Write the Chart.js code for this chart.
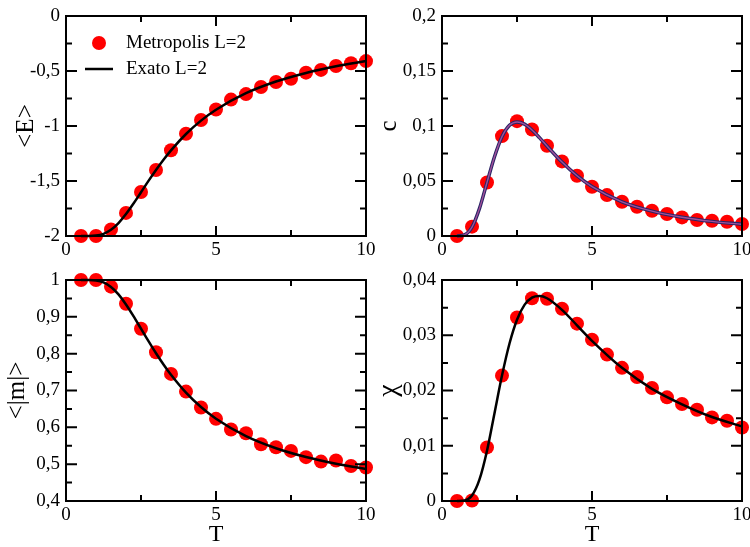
<!DOCTYPE html>
<html><head><meta charset="utf-8">
<script src="https://cdn.jsdelivr.net/npm/chart.js@4.4.0/dist/chart.umd.min.js"></script>
<style>
html,body{margin:0;padding:0;background:#fff;}
#wrap{position:relative;width:750px;height:547px;overflow:hidden;background:#fff;}
canvas{position:absolute;left:0;top:0;}
</style></head><body>
<div id="wrap">
<canvas id="c1" width="750" height="547"></canvas>
<canvas id="c2" width="750" height="547"></canvas>
<canvas id="c3" width="750" height="547"></canvas>
<canvas id="c4" width="750" height="547"></canvas>
</div>
<script>
// Monte Carlo (Metropolis) points
const tData = [0.5,1,1.5,2,2.5,3,3.5,4,4.5,5,5.5,6,6.5,7,7.5,8,8.5,9,9.5,10];
const eData = [-2.0,-2.0,-1.94,-1.79,-1.60,-1.40,-1.22,-1.07,-0.945,-0.85,-0.76,-0.71,-0.645,-0.60,-0.57,-0.515,-0.49,-0.455,-0.43,-0.41];
const cData = [0.0,0.0085,0.0487,0.0908,0.1044,0.0968,0.082,0.0678,0.0548,0.0448,0.0372,0.0312,0.0266,0.023,0.020,0.0169,0.0145,0.0139,0.013,0.0109];
const mData = [1.0,1.0,0.982,0.9356,0.8675,0.804,0.745,0.697,0.654,0.623,0.594,0.584,0.554,0.546,0.536,0.519,0.507,0.510,0.495,0.491];
const chiData = [0.0,0.0001,0.0097,0.0227,0.0332,0.0367,0.0366,0.0348,0.0321,0.0292,0.0265,0.0241,0.02245,0.02045,0.01876,0.01755,0.01652,0.01513,0.01452,0.01331];

// Exact curves
const tCurve = [0.5,0.75,1,1.25,1.5,1.75,2,2.25,2.5,2.75,3,3.25,3.5,4,4.5,5,6,7,8,9,10];
const eCurve = [-2.0,-1.9997,-1.996,-1.980,-1.9437,-1.8827,-1.8008,-1.7048,-1.6023,-1.4991,-1.3999,-1.3070,-1.2214,-1.0727,-0.9512,-0.8518,-0.7020,-0.5959,-0.5174,-0.4571,-0.4095];
const cCurve = [0.0,0.0010,0.0080,0.0251,0.0487,0.0721,0.0903,0.1006,0.1037,0.1017,0.0964,0.0894,0.0818,0.0672,0.0548,0.0449,0.0311,0.0226,0.0171,0.0133,0.0107];
const mCurve = [1.0,0.9999,0.9987,0.9934,0.9812,0.9609,0.9337,0.9018,0.8678,0.8338,0.8011,0.7706,0.7426,0.6942,0.6551,0.6233,0.5761,0.5432,0.5193,0.5012,0.4871];
const chiCurve = [0.0,0.0001,0.0010,0.0039,0.0091,0.0159,0.0227,0.0285,0.0328,0.0355,0.0368,0.0371,0.0367,0.0346,0.0318,0.0290,0.0241,0.0203,0.0175,0.0152,0.0135];

// Tick values
const xTicks = [0,5,10];
const eTicks = [-2,-1.5,-1,-0.5,0];
const cTicks = [0,0.05,0.1,0.15,0.2];
const mTicks = [0.4,0.5,0.6,0.7,0.8,0.9,1];
const chiTicks = [0,0.01,0.02,0.03,0.04];

const legendLabels = ['Metropolis L=2','Exato L=2'];

const FONT = "'Liberation Serif','Times New Roman',Times,serif";
function fmt(v){ return String(Number(Number(v).toFixed(4))).replace('.', ','); }
function pts(xs, ys){ return xs.map((x,i)=>({x:x, y:ys[i]})); }
function mids(arr){ const r=[]; for(let i=0;i<arr.length-1;i++) r.push((arr[i]+arr[i+1])/2); return r; }

const frameTicks = {
  id:'frameTicks',
  afterDraw(chart, args, opts){
    const {ctx, chartArea:a} = chart;
    const x = chart.scales.x, y = chart.scales.y;
    ctx.save();
    ctx.strokeStyle='#000'; ctx.lineWidth=2; ctx.lineCap='butt';
    ctx.beginPath();
    const XM=10, Xm=6, YM=11, Ym=6;
    opts.xMajor.forEach(v=>{ const p=x.getPixelForValue(v); ctx.moveTo(p,a.bottom); ctx.lineTo(p,a.bottom-XM); ctx.moveTo(p,a.top); ctx.lineTo(p,a.top+XM); });
    mids(opts.xMajor).forEach(v=>{ const p=x.getPixelForValue(v); ctx.moveTo(p,a.bottom); ctx.lineTo(p,a.bottom-Xm); ctx.moveTo(p,a.top); ctx.lineTo(p,a.top+Xm); });
    opts.yMajor.forEach(v=>{ const p=y.getPixelForValue(v); ctx.moveTo(a.left,p); ctx.lineTo(a.left+YM,p); ctx.moveTo(a.right,p); ctx.lineTo(a.right-YM,p); });
    mids(opts.yMajor).forEach(v=>{ const p=y.getPixelForValue(v); ctx.moveTo(a.left,p); ctx.lineTo(a.left+Ym,p); ctx.moveTo(a.right,p); ctx.lineTo(a.right-Ym,p); });
    ctx.stroke();
    ctx.strokeRect(a.left, a.top, a.right-a.left, a.bottom-a.top);
    ctx.restore();
  }
};

const innerLegend = {
  id:'innerLegend',
  afterDraw(chart){
    const {ctx, chartArea:a} = chart;
    const sc = chart.data.datasets.find(d=>d.role==='marker');
    const ln = chart.data.datasets.find(d=>d.role==='line');
    ctx.save();
    ctx.fillStyle = sc.backgroundColor;
    ctx.beginPath(); ctx.arc(a.left+33, a.top+27, 7, 0, Math.PI*2); ctx.fill();
    ctx.strokeStyle = ln.borderColor; ctx.lineWidth = ln.borderWidth;
    ctx.beginPath(); ctx.moveTo(a.left+19, a.top+53); ctx.lineTo(a.left+47, a.top+53); ctx.stroke();
    ctx.fillStyle = '#000'; ctx.font = '19px ' + FONT; ctx.textBaseline = 'middle'; ctx.textAlign='left';
    ctx.fillText(sc.label, a.left+60, a.top+27);
    ctx.fillText(ln.label, a.left+60, a.top+53);
    ctx.restore();
  }
};

function makeChart(id, cfg){
  const datasets = [
    {role:'marker', label:legendLabels[0], data:pts(tData, cfg.marks), showLine:false, pointRadius:7, pointHoverRadius:7,
     backgroundColor:'#ff0000', borderWidth:0, order:5, clip:false}
  ];
  cfg.lines.forEach((l,i)=>datasets.push({role: i===0?'line':'line2', label:legendLabels[1], data:pts(tCurve, cfg.curve), showLine:true,
     borderColor:l.color, borderWidth:l.width, pointRadius:0, cubicInterpolationMode:'monotone', order:3-i, clip:false, fill:false}));
  return new Chart(document.getElementById(id), {
    type:'scatter',
    data:{datasets},
    plugins: cfg.legend ? [frameTicks, innerLegend] : [frameTicks],
    options:{
      responsive:false, animation:false, events:[], devicePixelRatio:1,
      layout:{padding:cfg.pad},
      plugins:{legend:{display:false}, tooltip:{enabled:false}, frameTicks:{xMajor:xTicks, yMajor:cfg.yTicks}},
      scales:{
        x:{type:'linear', min:0, max:10,
           afterBuildTicks:s=>{ s.ticks = xTicks.map(v=>({value:v})); },
           afterFit:s=>{ s.height=46; s.paddingLeft=0; s.paddingRight=0; },
           grid:{display:false, drawTicks:false}, border:{display:false},
           ticks:{padding:3, color:'#000', font:{family:FONT, size:19}, callback:v=>fmt(v), maxRotation:0, autoSkip:false},
           title:{display:cfg.xTitle, text:'T', color:'#000', font:{family:FONT, size:24, lineHeight:1}, padding:{top:0, bottom:0}}},
        y:{type:'linear', min:cfg.yTicks[0], max:cfg.yTicks[cfg.yTicks.length-1],
           afterBuildTicks:s=>{ s.ticks = cfg.yTicks.map(v=>({value:v})); },
           afterFit:s=>{ s.width=cfg.yw; s.paddingTop=0; s.paddingBottom=0; },
           grid:{display:false, drawTicks:false}, border:{display:false},
           ticks:{padding:6, color:'#000', font:{family:FONT, size:19}, callback:v=>fmt(v), autoSkip:false},
           title:{display:true, text:cfg.yTitle, color:'#000', font:{family:FONT, size:cfg.ts||25, lineHeight:1}, padding:{top:cfg.tp, bottom:0}}}
      }
    }
  });
}

makeChart('c1', {marks:eData, curve:eCurve, yTicks:eTicks, yTitle:'<E>', tp:14, yw:66, xTitle:false, legend:true,
  lines:[{color:'#000', width:2.5}], pad:{left:0, top:16, right:384, bottom:265}});
makeChart('c2', {marks:cData, curve:cCurve, yTicks:cTicks, yTitle:'c', tp:2, yw:67, xTitle:false, legend:false,
  lines:[{color:'#2a2466', width:3.5},{color:'#a0509a', width:1.4}], pad:{left:375, top:16, right:8, bottom:265}});
makeChart('c3', {marks:mData, curve:mCurve, yTicks:mTicks, yTitle:'<|m|>', tp:5, yw:66, xTitle:true, legend:false,
  lines:[{color:'#000', width:2.5}], pad:{left:0, top:280, right:384, bottom:0}});
makeChart('c4', {marks:chiData, curve:chiCurve, yTicks:chiTicks, yTitle:'χ', tp:0, ts:28, yw:67, xTitle:true, legend:false,
  lines:[{color:'#000', width:2.5}], pad:{left:375, top:280, right:8, bottom:0}});
</script>
</body></html>
